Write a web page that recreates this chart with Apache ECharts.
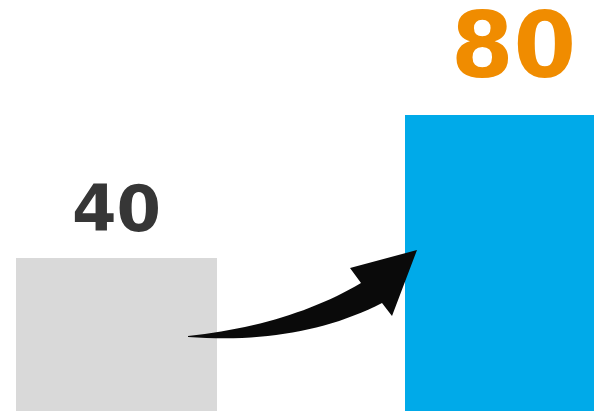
<!DOCTYPE html>
<html>
<head>
<meta charset="utf-8">
<script src="https://cdn.jsdelivr.net/npm/echarts@6/dist/echarts.min.js"></script>
<style>
html,body{margin:0;padding:0;background:#fff;}
#chart{width:594px;height:411px;}
</style>
</head>
<body>
<div id="chart"></div>
<script>
const categories = ['Before', 'After'];
const values = [40, 80];

const barColors = ['#D9D9D9', '#00AAE9'];
const labelColors = ['#363636', '#F08C00'];
const labelSizes = [64, 90];
const labelOffsetX = [0, 8];

const Y_MIN = -2.8;

function quad(p0, c, p1, n) {
  const pts = [];
  for (let k = 0; k <= n; k++) {
    const t = k / n, u = 1 - t;
    pts.push([u * u * p0[0] + 2 * u * t * c[0] + t * t * p1[0],
              u * u * p0[1] + 2 * u * t * c[1] + t * t * p1[1]]);
  }
  return pts;
}
const arrowPoints = []
  .concat(quad([188, 336], [290, 325], [361, 283], 24))
  .concat([[350, 268], [417, 250], [392, 316]])
  .concat(quad([382, 303], [300, 345], [188, 337], 24));

const chart = echarts.init(document.getElementById('chart'), null, {renderer: 'canvas'});

chart.setOption({
  animation: false,
  backgroundColor: '#ffffff',
  grid: {left: 0, right: 0, top: 43.5, bottom: 0, containLabel: false},
  xAxis: {type: 'value', min: -0.2995, max: 1.2275, show: false, splitLine: {show: false}},
  yAxis: {type: 'value', min: Y_MIN, max: 100, show: false, splitLine: {show: false}},
  series: [{
    type: 'custom',
    name: 'values',
    clip: false,
    data: values.map((v, i) => ({name: categories[i], value: [i, v]})),
    renderItem: function (params, api) {
      const i = api.value(0);
      const v = api.value(1);
      const top = api.coord([i, v]);
      const base = api.coord([i, Y_MIN]);
      const w = api.size([0.5167, 0])[0];
      const fs = labelSizes[i];
      return {
        type: 'group',
        children: [
          {
            type: 'rect',
            shape: {x: top[0] - w / 2, y: top[1], width: w, height: base[1] - top[1]},
            style: {fill: barColors[i]}
          },
          {
            type: 'text',
            style: {
              text: String(v),
              x: top[0] + labelOffsetX[i],
              y: top[1] - fs * 0.68,
              align: 'center',
              verticalAlign: 'middle',
              font: 'bold ' + fs + 'px "DejaVu Sans"',
              fill: labelColors[i]
            }
          }
        ]
      };
    }
  }],
  graphic: [{
    type: 'polygon',
    shape: {points: arrowPoints},
    style: {fill: '#0A0A0A'},
    z: 100
  }]
});
</script>
</body>
</html>
